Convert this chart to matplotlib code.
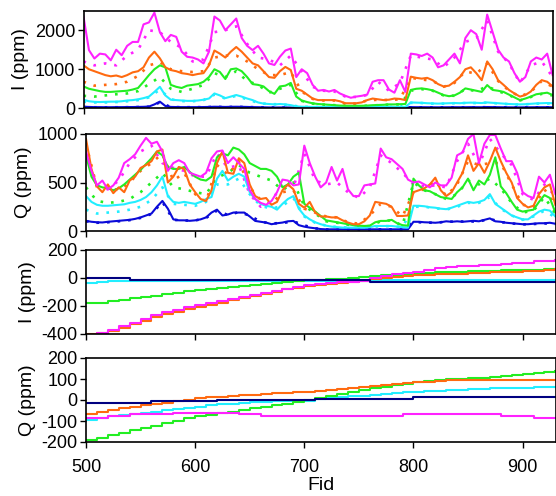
import numpy as np
import matplotlib
matplotlib.use("Agg")
import matplotlib.pyplot as plt

plt.rcParams['font.family'] = ['Liberation Sans', 'DejaVu Sans']
plt.rcParams['axes.unicode_minus'] = False

# fiducial positions
fid5 = np.arange(500, 931, 5)
fid10 = np.arange(500, 931, 10)

# panel 1: I (ppm), solid series every 5 fids
mag_i = [2350, 1490, 1275, 1400, 1380, 1230, 1500, 1360, 1600, 1700,
         1700, 2150, 2200, 2450, 1950, 1720, 1880, 1830, 1450, 1320,
         1300, 1250, 1150, 1450, 2350, 2250, 2000, 2150, 2300, 1800,
         1600, 1490, 1600, 1400, 1150, 1110, 1320, 1480, 1530, 800,
         1000, 900, 600, 450, 470, 430, 470, 380, 320, 270,
         300, 320, 350, 680, 720, 720, 480, 400, 720, 420,
         1400, 1380, 1340, 1400, 1300, 1050, 1100, 1250, 1400, 1150,
         1800, 2000, 1900, 1500, 2400, 1950, 1500, 1300, 1200, 900,
         680, 800, 1200, 1300, 1250, 1400, 850]
org_i = [1100, 1000, 950, 900, 850, 820, 840, 800, 850, 920,
         950, 1050, 1300, 1450, 1280, 1050, 980, 950, 900, 880,
         850, 880, 900, 1100, 1480, 1400, 1300, 1450, 1570, 1450,
         1300, 1150, 1100, 950, 800, 780, 950, 1060, 980, 500,
         450, 350, 250, 210, 210, 210, 210, 180, 130, 130,
         130, 150, 210, 250, 230, 210, 220, 250, 240, 210,
         810, 780, 760, 780, 720, 620, 560, 580, 680, 800,
         1000, 1050, 900, 720, 1200, 1000, 720, 600, 470, 380,
         300, 340, 430, 600, 720, 680, 560]
grn_i = [560, 500, 470, 440, 420, 420, 430, 440, 450, 480,
         520, 680, 850, 1000, 1100, 1050, 600, 550, 520, 580,
         600, 620, 680, 800, 1000, 930, 750, 1000, 1020, 950,
         800, 620, 600, 560, 440, 370, 560, 580, 650, 300,
         200, 160, 128, 110, 100, 90, 80, 70, 65, 65,
         65, 65, 70, 80, 85, 90, 100, 100, 105, 110,
         470, 500, 510, 490, 460, 400, 340, 310, 330, 400,
         510, 480, 450, 420, 595, 470, 450, 420, 350, 280,
         210, 250, 300, 360, 380, 400, 340]
cyn_i = [220, 180, 165, 160, 165, 170, 170, 180, 200, 210,
         230, 260, 300, 420, 550, 330, 220, 210, 200, 190,
         190, 200, 220, 250, 380, 330, 260, 300, 340, 300,
         250, 210, 150, 120, 110, 100, 110, 100, 80, 50,
         40, 38, 35, 35, 35, 32, 30, 30, 30, 30,
         30, 30, 32, 35, 35, 38, 38, 35, 35, 35,
         150, 145, 140, 130, 125, 120, 125, 130, 135, 130,
         140, 145, 140, 135, 150, 140, 130, 120, 110, 105,
         100, 105, 115, 125, 130, 135, 130]
blu_i = [40, 35, 30, 30, 28, 28, 30, 30, 32, 32,
         35, 38, 45, 100, 170, 60, 35, 32, 30, 30,
         30, 30, 32, 35, 40, 38, 35, 38, 40, 38,
         35, 30, 28, 25, 22, 20, 22, 22, 20, 15,
         12, 12, 12, 12, 12, 12, 12, 12, 12, 12,
         12, 12, 12, 12, 12, 12, 12, 12, 12, 12,
         30, 28, 28, 27, 26, 25, 26, 27, 28, 27,
         28, 30, 28, 27, 32, 30, 28, 26, 25, 24,
         24, 25, 26, 27, 28, 28, 27]

# panel 1 dotted series, every 10 fids
mag_i_d = [1200, 1100, 1150, 1100, 1350, 1500, 2000, 1950, 1700, 1550,
           1200, 1250, 1950, 2000, 2100, 1650, 1300, 1250, 1100, 1350,
           950, 550, 450, 430, 300, 290, 340, 680, 450, 650,
           1350, 1300, 1250, 1050, 1300, 1700, 1800, 2250, 1450, 1150,
           650, 1100, 1200, 800]
org_i_d = [680, 580, 600, 620, 680, 830, 1100, 1180, 1000, 950,
           930, 950, 1300, 1350, 1350, 1200, 1000, 850, 850, 930,
           430, 240, 200, 200, 120, 120, 200, 220, 210, 230,
           780, 740, 700, 550, 650, 950, 880, 1150, 700, 450,
           300, 420, 700, 550]
grn_i_d = [320, 300, 330, 360, 380, 440, 620, 800, 500, 420,
           500, 600, 900, 800, 950, 700, 600, 400, 500, 600,
           190, 120, 95, 80, 60, 60, 65, 80, 95, 100,
           450, 490, 450, 330, 320, 490, 440, 560, 440, 340,
           200, 290, 370, 330]
cyn_i_d = [170, 150, 150, 160, 180, 210, 280, 480, 230, 185,
           180, 210, 350, 250, 320, 230, 140, 105, 105, 75,
           38, 33, 33, 30, 28, 28, 30, 33, 35, 33,
           140, 135, 120, 120, 130, 135, 135, 145, 125, 105,
           95, 110, 125, 125]
blu_i_d = [30, 26, 25, 26, 28, 32, 40, 150, 32, 28,
           28, 30, 36, 33, 36, 32, 26, 20, 20, 16,
           10, 10, 10, 10, 10, 10, 10, 10, 10, 10,
           25, 24, 23, 23, 24, 25, 25, 28, 24, 22,
           22, 23, 25, 25]

# panel 2: Q (ppm), solid series every 5 fids
mag_q = [820, 620, 470, 520, 430, 470, 550, 700, 740, 790,
         880, 960, 900, 920, 820, 620, 700, 730, 700, 600,
         580, 560, 600, 750, 820, 830, 700, 760, 700, 640,
         420, 330, 290, 270, 310, 400, 530, 520, 470, 480,
         880, 700, 560, 450, 500, 660, 520, 640, 430, 360,
         360, 470, 480, 490, 850, 760, 740, 690, 640, 530,
         500, 510, 480, 450, 500, 470, 470, 550, 780, 810,
         950, 1000, 700, 900, 990, 990, 850, 720, 720, 600,
         400, 360, 340, 560, 500, 580, 380]
org_q = [950, 640, 460, 400, 480, 390, 450, 400, 520, 560,
         650, 680, 720, 820, 840, 500, 560, 660, 640, 480,
         400, 330, 310, 420, 700, 820, 600, 590, 750, 700,
         480, 360, 330, 340, 270, 300, 420, 480, 430, 280,
         240, 300, 190, 150, 150, 140, 140, 110, 87, 70,
         70, 100, 160, 300, 290, 280, 250, 155, 155, 160,
         400, 420, 440, 480, 550, 420, 360, 400, 500, 600,
         780, 620, 700, 600, 720, 860, 720, 600, 500, 340,
         280, 243, 260, 380, 450, 480, 270]
grn_q = [780, 560, 470, 450, 440, 420, 440, 480, 530, 580,
         630, 690, 750, 820, 780, 660, 640, 640, 660, 610,
         560, 530, 520, 560, 760, 800, 780, 860, 840, 790,
         700, 670, 640, 640, 620, 560, 450, 480, 560, 600,
         280, 240, 200, 155, 110, 100, 90, 80, 70, 60,
         55, 52, 55, 90, 104, 104, 115, 80, 60, 55,
         540, 470, 420, 410, 380, 350, 340, 330, 400, 450,
         540, 420, 520, 480, 580, 760, 460, 390, 300, 220,
         200, 210, 220, 300, 370, 340, 190]
cyn_q = [360, 300, 270, 260, 260, 265, 270, 275, 290, 300,
         320, 350, 400, 470, 560, 360, 300, 290, 300, 290,
         280, 300, 330, 350, 540, 620, 520, 560, 590, 560,
         400, 330, 280, 260, 250, 220, 280, 330, 360, 230,
         160, 120, 90, 70, 55, 45, 40, 35, 35, 35,
         35, 35, 40, 52, 52, 52, 52, 45, 40, 35,
         260, 260, 255, 245, 240, 230, 225, 240, 260, 280,
         300, 290, 300, 320, 380, 280, 240, 200, 160, 140,
         120, 120, 160, 200, 220, 210, 150]
blu_q = [105, 95, 90, 88, 95, 100, 105, 110, 115, 125,
         140, 160, 180, 250, 310, 230, 120, 110, 110, 105,
         110, 120, 140, 190, 220, 160, 170, 190, 190, 190,
         150, 104, 95, 87, 70, 80, 87, 100, 104, 60,
         45, 35, 28, 20, 17, 17, 17, 17, 17, 17,
         17, 17, 17, 17, 17, 17, 17, 17, 17, 17,
         95, 95, 90, 88, 85, 90, 100, 95, 100, 95,
         100, 105, 100, 115, 130, 100, 95, 85, 80, 75,
         70, 70, 75, 80, 80, 85, 75]

# panel 2 dotted series, every 10 fids
mag_q_d = [780, 470, 430, 520, 700, 820, 880, 700, 650, 620,
           560, 560, 800, 650, 680, 380, 250, 300, 500, 450,
           800, 520, 480, 500, 400, 340, 450, 780, 700, 600,
           480, 460, 470, 450, 720, 900, 680, 950, 800, 680,
           380, 320, 480, 360]
org_q_d = [900, 450, 450, 420, 500, 620, 700, 800, 520, 600,
           380, 300, 680, 580, 720, 450, 320, 280, 400, 420,
           230, 190, 150, 140, 90, 75, 160, 280, 250, 150,
           400, 430, 520, 360, 480, 720, 680, 700, 700, 480,
           270, 250, 430, 270]
grn_q_d = [450, 310, 290, 300, 330, 400, 500, 600, 450, 430,
           400, 380, 550, 600, 680, 600, 560, 520, 420, 500,
           260, 180, 100, 85, 65, 50, 50, 100, 110, 55,
           500, 420, 380, 330, 380, 520, 480, 540, 440, 290,
           190, 210, 350, 180]
cyn_q_d = [220, 180, 190, 200, 220, 250, 320, 450, 280, 270,
           260, 300, 480, 480, 540, 380, 260, 230, 260, 340,
           150, 85, 55, 40, 35, 35, 40, 50, 50, 40,
           250, 250, 235, 220, 250, 290, 290, 350, 230, 160,
           115, 150, 210, 140]
blu_q_d = [100, 85, 90, 100, 112, 135, 175, 300, 115, 108,
           108, 135, 210, 165, 195, 160, 95, 78, 82, 100,
           58, 27, 16, 16, 16, 16, 16, 16, 16, 16,
           92, 88, 84, 96, 98, 98, 98, 125, 92, 78,
           68, 72, 78, 72]

# panel 3: I drift (ppm), every 10 fids
mag_id = [-410, -395, -370, -345, -318, -292, -265, -245, -228, -210,
          -196, -180, -165, -150, -135, -120, -106, -92, -78, -64,
          -52, -45, -38, -32, -25, -18, 0, 15, 28, 38,
          45, 55, 70, 80, 85, 88, 92, 95, 100, 105,
          110, 118, 125, 132]
org_id = [-400, -395, -375, -355, -330, -305, -280, -258, -240, -222,
          -208, -190, -175, -160, -145, -128, -112, -97, -82, -68,
          -55, -47, -40, -34, -27, -20, -10, 0, 10, 15,
          20, 25, 28, 30, 32, 35, 38, 40, 42, 45,
          48, 52, 58, 62]
grn_id = [-180, -175, -165, -155, -145, -135, -125, -115, -105, -95,
          -85, -78, -70, -63, -55, -48, -40, -35, -28, -22,
          -15, -12, -8, -5, 0, 5, 12, 18, 25, 28,
          32, 36, 40, 42, 45, 48, 50, 52, 54, 56,
          58, 60, 63, 66]
cyn_id = [-35, -25] + [-20] * 24 + [-15] * 18
blu_id = [0] * 4 + [-12] * 22 + [-25] * 18

# panel 4: Q drift (ppm), every 10 fids
mag_qd = ([-85, -85, -77, -77, -69, -69, -65, -65, -62, -62, -61, -61, -61, -61]
          + [-69] * 2 + [-77] * 13 + [-69] * 9 + [-77] * 3 + [-85] * 3)
org_qd = [-69, -58, -48, -40, -32, -25, -18, -12, -7, 0,
          8, 12, 16, 20, 23, 26, 29, 31, 34, 36,
          38, 42, 46, 51, 55, 60, 65, 70, 76, 80,
          84, 88, 92, 93, 93, 93, 93, 93, 93, 93,
          93, 97, 97, 97]
grn_qd = [-192, -180, -168, -157, -145, -134, -122, -110, -99, -88,
          -77, -70, -62, -55, -47, -40, -32, -25, -17, -8,
          0, 10, 20, 30, 39, 48, 56, 63, 72, 78,
          84, 89, 94, 98, 101, 104, 107, 110, 114, 118,
          123, 128, 133, 138]
cyn_qd = [-93, -85, -77, -72, -66, -61, -55, -49, -43, -37,
          -31, -26, -21, -17, -13, -10, -8, -6, -5, -4,
          -3, 3, 8, 13, 17, 21, 25, 29, 33, 36,
          38, 41, 44, 46, 49, 52, 54, 56, 57, 58,
          59, 60, 61, 62]
blu_qd = [-16] * 6 + [-7] * 6 + [0] * 9 + [5] * 9 + [16] * 14

c_mag = '#FF22FF'
c_org = '#FF6A10'
c_grn = '#22EE22'
c_cyn = '#22EEFF'
c_blu = '#0A0AD8'
c_nav = '#000080'
dots = (0, (1, 3))

fig = plt.figure(figsize=(5.56, 4.96), dpi=100)
W, H = 556.0, 496.0

def box(l, t, r, b):
    return [l / W, 1 - b / H, (r - l) / W, (b - t) / H]

ax1 = fig.add_axes(box(83.5, 10.7, 553.3, 108.3))
ax2 = fig.add_axes(box(86, 134, 556, 231))
ax3 = fig.add_axes(box(86, 250, 556, 334))
ax4 = fig.add_axes(box(86, 358, 556, 442))

# raw I and Q: dotted first, solid on top
for ax, sol, dot in [
        (ax1, [blu_i, cyn_i, grn_i, org_i, mag_i], [blu_i_d, cyn_i_d, grn_i_d, org_i_d, mag_i_d]),
        (ax2, [blu_q, cyn_q, grn_q, org_q, mag_q], [blu_q_d, cyn_q_d, grn_q_d, org_q_d, mag_q_d])]:
    for y, c in zip(dot, [c_blu, c_cyn, c_grn, c_org, c_mag]):
        ax.plot(fid10, y, color=c, lw=1.9, linestyle=dots)
    for y, c in zip(sol, [c_blu, c_cyn, c_grn, c_org, c_mag]):
        ax.plot(fid5, y, color=c, lw=1.5)

# drift panels, drawn as staircases
for ax, series in [(ax3, [cyn_id, grn_id, org_id, mag_id, blu_id]),
                   (ax4, [cyn_qd, grn_qd, org_qd, mag_qd, blu_qd])]:
    for y, c in zip(series, [c_cyn, c_grn, c_org, c_mag, c_nav]):
        ax.plot(fid10, y, color=c, lw=1.5, drawstyle='steps-post')

ax1.set_ylim(0, 2500)
ax1.set_yticks([0, 1000, 2000])
ax2.set_ylim(0, 1000)
ax2.set_yticks([0, 500, 1000])
ax3.set_ylim(-400, 200)
ax3.set_yticks([-400, -200, 0, 200])
ax4.set_ylim(-200, 200)
ax4.set_yticks([-200, -100, 0, 100, 200])

for ax, lab in zip([ax1, ax2, ax3, ax4], ['I (ppm)', 'Q (ppm)', 'I (ppm)', 'Q (ppm)']):
    ax.set_xlim(500, 930.6)
    ax.set_xticks([500, 600, 700, 800, 900])
    ax.tick_params(direction='out', length=4, width=1, labelsize=13, pad=2)
    ax.tick_params(axis='x', pad=8)
    ax.set_ylabel(lab, fontsize=14, labelpad=4)
    for s in ax.spines.values():
        s.set_linewidth(1.2)
    if ax is not ax4:
        ax.tick_params(labelbottom=False)

ax4.set_xlabel('Fid', fontsize=14, labelpad=1)
fig.align_ylabels([ax1, ax2, ax3, ax4])

fig.savefig('out.png', dpi=100)
